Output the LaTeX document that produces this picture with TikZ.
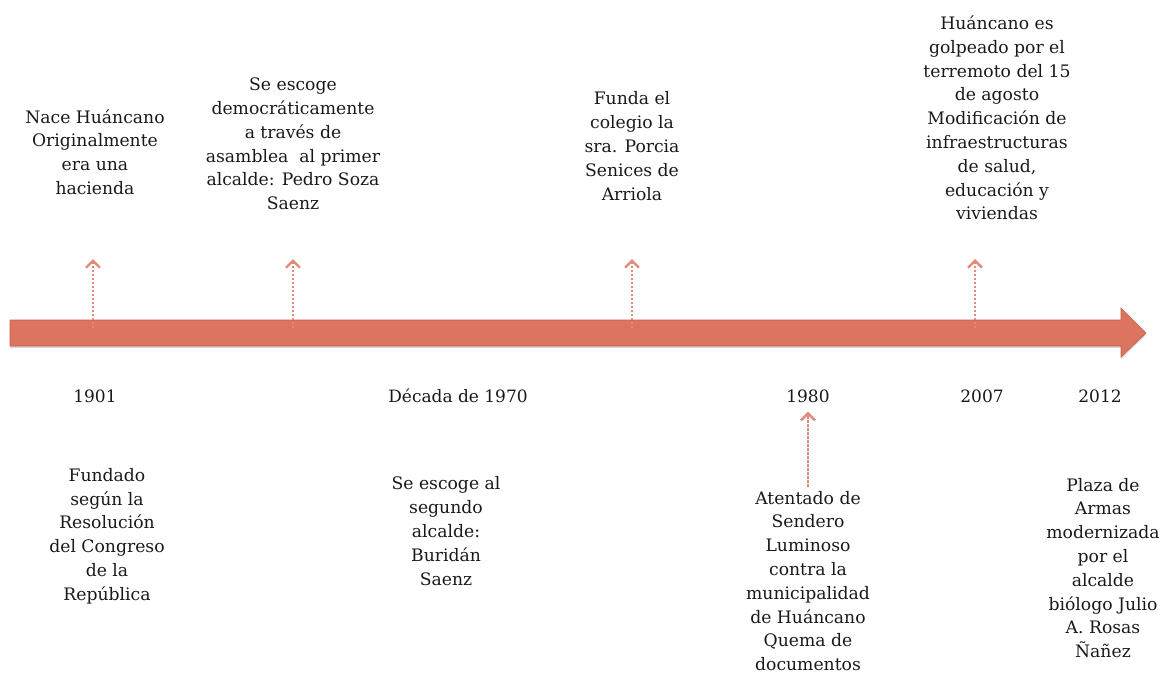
\documentclass[tikz,border=0pt]{standalone}
\usepackage{fontspec}
\setmainfont{DejaVu Serif}
\usetikzlibrary{arrows.meta,shadows}
\definecolor{barra}{RGB}{221,116,96}
\definecolor{borde}{RGB}{200,96,78}
\begin{document}
\begin{tikzpicture}[x=1pt,y=-1pt,
  evento/.style={align=center,inner sep=0pt,text=black!90,
    font=\fontsize{17.2}{23.8}\selectfont},
  fecha/.style={inner sep=0pt,text=black!90,font=\fontsize{17}{20}\selectfont},
  flecha/.style={-{Straight Barb[length=7pt,width=14pt,line width=2.4pt]},
    dash pattern=on 2.5pt off 1.5pt,line width=2.4pt,color=barra!85}]
\useasboundingbox (0,0) rectangle (1168,673);
% linea de tiempo
\filldraw[fill=barra,draw=borde,line width=0.6pt,
  drop shadow={shadow xshift=0pt,shadow yshift=-2pt,opacity=.3}]
  (10,320) -- (1121,320) -- (1121,308) -- (1146,333)
  -- (1121,357) -- (1121,346) -- (10,346) -- cycle;
% fechas
\node[fecha] (f1901) at (95,396) {1901};
\node[fecha] (f1970) at (458,396) {Década de 1970};
\node[fecha] (f1980) at (808,396) {1980};
\node[fecha] (f2007) at (982,396) {2007};
\node[fecha] (f2012) at (1100,396) {2012};
% eventos arriba
\node[evento] (nace) at (95,152)
  {Nace Huáncano\\Originalmente\\era una\\hacienda};
\node[evento] (primero) at (293,144)
  {Se escoge\\democráticamente\\a través de\\asamblea\ \ al primer\\alcalde: Pedro Soza\\Saenz};
\node[evento] (colegio) at (632,146)
  {Funda el\\colegio la\\sra. Porcia\\Senices de\\Arriola};
\node[evento] (sismo) at (997,118)
  {Huáncano es\\golpeado por el\\terremoto del 15\\de agosto\\Modificación de\\infraestructuras\\de salud,\\educación y\\viviendas};
% eventos abajo
\node[evento] (fundado) at (107,536)
  {Fundado\\según la\\Resolución\\del Congreso\\de la\\República};
\node[evento] (segundo) at (446,531)
  {Se escoge al\\segundo\\alcalde:\\Buridán\\Saenz};
\node[evento] (atentado) at (808,581)
  {Atentado de\\Sendero\\Luminoso\\contra la\\municipalidad\\de Huáncano\\Quema de\\documentos};
\node[evento] (plaza) at (1103,568)
  {Plaza de\\Armas\\modernizada\\por el\\alcalde\\biólogo Julio\\A. Rosas\\Ñañez};
% flechas
\coordinate (b1) at (93,328);   \coordinate (t1) at (93,259);
\coordinate (b2) at (293,328);  \coordinate (t2) at (293,259);
\coordinate (b3) at (632,328);  \coordinate (t3) at (632,259);
\coordinate (b4) at (975,328);  \coordinate (t4) at (975,259);
\foreach \i in {1,...,4}
  \draw[flecha] (b\i) -- (t\i);
\draw[flecha,shorten <=4pt,shorten >=9pt] (atentado.north) -- (f1980.south);
\end{tikzpicture}
\end{document}
